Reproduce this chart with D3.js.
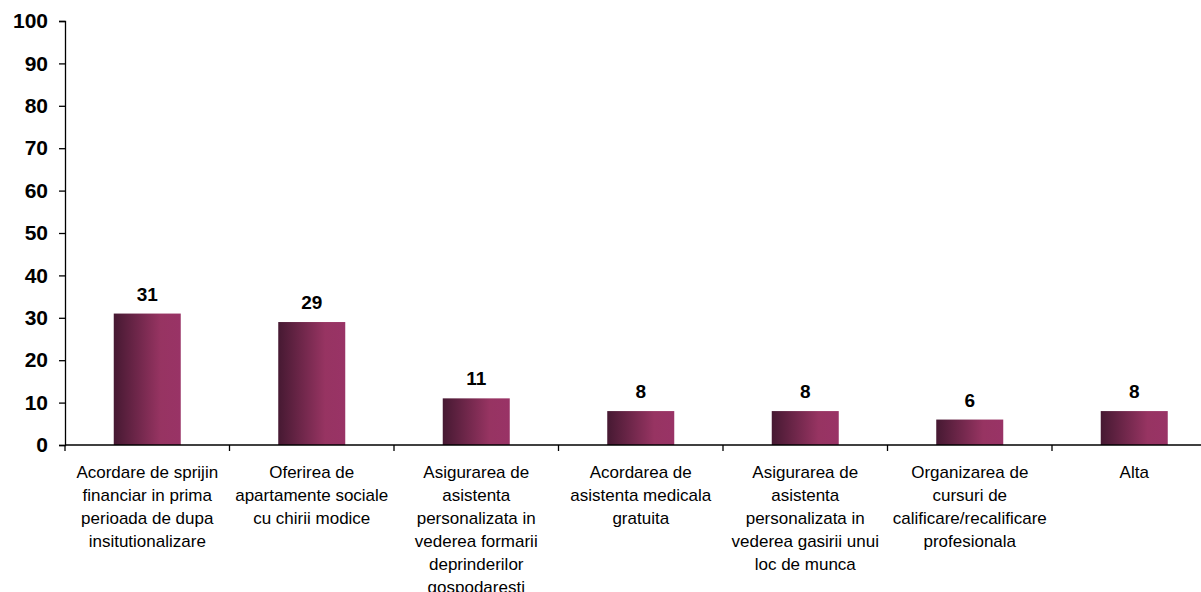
<!DOCTYPE html>
<html><head><meta charset="utf-8">
<script src="https://cdn.jsdelivr.net/npm/d3@7"></script>
<style>html,body{margin:0;padding:0;background:#fff;overflow:hidden}</style>
</head><body>
<svg id="chart" width="1201" height="592"></svg>
<script>
const categories = [
  "Acordare de sprijin\nfinanciar in prima\nperioada de dupa\ninsitutionalizare",
  "Oferirea de\napartamente sociale\ncu chirii modice",
  "Asigurarea de\nasistenta\npersonalizata in\nvederea formarii\ndeprinderilor\ngospodaresti",
  "Acordarea de\nasistenta medicala\ngratuita",
  "Asigurarea de\nasistenta\npersonalizata in\nvederea gasirii unui\nloc de munca",
  "Organizarea de\ncursuri de\ncalificare/recalificare\nprofesionala",
  "Alta"
];
const values = [31, 29, 11, 8, 8, 6, 8];
const yTicks = [0, 10, 20, 30, 40, 50, 60, 70, 80, 90, 100];

const svg = d3.select("#chart");
const x0 = 65, bandW = 164.5;
const x = d3.scaleBand().domain(d3.range(categories.length))
  .range([x0, x0 + bandW * categories.length]).paddingInner(0).paddingOuter(0);
const y = d3.scaleLinear().domain([0, 100]).range([445, 21]);

const defs = svg.append("defs");
const g = defs.append("linearGradient").attr("id", "barGrad")
  .attr("x1", "0%").attr("x2", "100%").attr("y1", "0%").attr("y2", "0%");
g.append("stop").attr("offset", "0%").attr("stop-color", "#461932");
g.append("stop").attr("offset", "70%").attr("stop-color", "#973462");
g.append("stop").attr("offset", "100%").attr("stop-color", "#993366");

const font = "'Liberation Sans', Arial, sans-serif";

// bars
const bw = 67;
svg.selectAll("rect.bar").data(values).enter().append("rect")
  .attr("class", "bar")
  .attr("x", (d, i) => x(i) + x.bandwidth() / 2 - bw / 2)
  .attr("width", bw)
  .attr("y", d => y(d))
  .attr("height", d => y(0) - y(d))
  .attr("fill", "url(#barGrad)");

// value labels
svg.selectAll("text.val").data(values).enter().append("text")
  .attr("class", "val")
  .attr("x", (d, i) => x(i) + x.bandwidth() / 2)
  .attr("y", d => y(d) - 13)
  .attr("text-anchor", "middle")
  .style("font-family", font).style("font-weight", "bold").style("font-size", "19px")
  .attr("fill", "#000")
  .text(d => d);

// y axis
const yAxis = d3.axisLeft(y).tickValues(yTicks).tickSize(6).tickPadding(11);
const ya = svg.append("g").attr("transform", `translate(${x0},0)`).call(yAxis);
ya.select(".domain").attr("stroke", "#000").attr("stroke-width", 1.3);
ya.selectAll(".tick line").attr("stroke", "#000").attr("stroke-width", 1.3);
ya.selectAll(".tick text").style("font-family", font).style("font-weight", "bold")
  .style("font-size", "21px").attr("fill", "#000");

// x axis
svg.append("line").attr("x1", x0).attr("x2", 1201).attr("y1", y(0)).attr("y2", y(0))
  .attr("stroke", "#000").attr("stroke-width", 1.3);
svg.selectAll("line.xt").data(d3.range(categories.length + 1)).enter().append("line")
  .attr("class", "xt")
  .attr("x1", i => x0 + i * x.step()).attr("x2", i => x0 + i * x.step())
  .attr("y1", y(0)).attr("y2", y(0) + 6)
  .attr("stroke", "#000").attr("stroke-width", 1.3);

// category labels
const lab = svg.selectAll("text.cat").data(categories).enter().append("text")
  .attr("class", "cat")
  .attr("text-anchor", "middle")
  .style("font-family", font).style("font-size", "17px").attr("fill", "#000");
lab.each(function(d, i) {
  const t = d3.select(this);
  d.split("\n").forEach((line, k) => {
    t.append("tspan").attr("x", x(i) + x.bandwidth() / 2)
      .attr("y", 478 + k * 23).text(line);
  });
});
</script>
</body></html>
